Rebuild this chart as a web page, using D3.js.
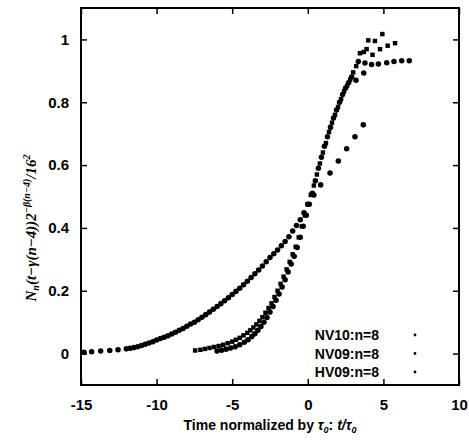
<!DOCTYPE html>
<html>
<head>
<meta charset="utf-8">
<script src="https://cdnjs.cloudflare.com/ajax/libs/d3/7.8.5/d3.min.js"></script>
<style>
  body { margin: 0; background: #fff; }
  text { font-family: "Liberation Sans", Arial, sans-serif; }
</style>
</head>
<body>
<script>
// NV10: the wide curve starting at -15
var nv10X = [-14.8,-14.3,-13.7,-13.1,-12.55,-12.0,-11.75,-11.5,-11.25,-11.0,-10.75,-10.5,-10.25,-10.0,-9.75,-9.5,-9.25,-9.0,-8.75,-8.5,-8.25,-8.0,-7.75,-7.5,-7.25,-7.0,-6.75,-6.5,-6.25,-6.0,-5.75,-5.5,-5.25,-5.0,-4.75,-4.5,-4.25,-4.0,-3.75,-3.5,-3.25,-3.0,-2.75,-2.5,-2.25,-2.0,-1.75,-1.5,-1.25,-1.0,-0.75,-0.5,-0.25,0.0,0.4,0.85,1.47,2.02,2.57,3.12,3.67];
var nv10Y = [0.004,0.006,0.008,0.010,0.012,0.015,0.017,0.019,0.022,0.026,0.030,0.034,0.038,0.043,0.048,0.052,0.057,0.062,0.068,0.074,0.080,0.087,0.094,0.100,0.108,0.116,0.124,0.132,0.141,0.150,0.159,0.168,0.178,0.188,0.198,0.208,0.219,0.230,0.242,0.254,0.266,0.279,0.292,0.306,0.318,0.330,0.343,0.357,0.372,0.390,0.408,0.426,0.448,0.475,0.505,0.537,0.575,0.613,0.652,0.690,0.728];

// NV09: steep curve starting near -7.5
var nv09X = [-7.45,-7.1,-6.8,-6.5,-6.2,-5.9,-5.6,-5.3,-5.0,-4.75,-4.5,-4.25,-4.0,-3.8,-3.6,-3.4,-3.2,-3.0,-2.8,-2.6,-2.4,-2.2,-2.0,-1.8,-1.6,-1.4,-1.2,-1.0,-0.8,-0.6,-0.4,-0.2,0.0,0.2,0.4,0.6,0.8,1.0,1.2,1.4,1.6,1.8,2.0,2.2,2.4,2.6,2.8,3.0,3.2,3.45,3.7,3.89,4.0,4.28,4.44,4.78,4.93,5.28,5.77];
var nv09Y = [0.010,0.012,0.015,0.018,0.021,0.024,0.028,0.033,0.038,0.044,0.050,0.058,0.066,0.074,0.083,0.093,0.104,0.116,0.130,0.145,0.160,0.180,0.200,0.222,0.245,0.268,0.292,0.316,0.340,0.370,0.405,0.440,0.475,0.505,0.535,0.570,0.605,0.640,0.670,0.705,0.735,0.760,0.785,0.810,0.835,0.853,0.872,0.895,0.915,0.956,0.960,0.969,0.997,0.951,0.995,0.969,1.017,0.980,0.988];

// HV09: steep curve starting near -6, flattening at ~0.93
var hv09X = [-6.0,-5.7,-5.4,-5.1,-4.8,-4.5,-4.2,-3.95,-3.7,-3.5,-3.3,-3.1,-2.9,-2.7,-2.5,-2.3,-2.1,-1.9,-1.7,-1.5,-1.3,-1.1,-0.9,-0.7,-0.5,-0.3,-0.1,0.1,0.3,0.5,0.7,0.9,1.1,1.3,1.5,1.7,1.9,2.1,2.3,2.5,2.7,2.9,3.19,3.34,3.7,3.78,4.22,4.67,5.22,5.7,6.21,6.71];
var hv09Y = [0.008,0.011,0.014,0.018,0.022,0.028,0.036,0.044,0.054,0.063,0.074,0.086,0.100,0.115,0.132,0.150,0.170,0.190,0.212,0.235,0.260,0.285,0.310,0.338,0.370,0.405,0.440,0.475,0.510,0.550,0.590,0.625,0.660,0.690,0.720,0.750,0.775,0.800,0.825,0.845,0.862,0.880,0.870,0.930,0.893,0.925,0.920,0.922,0.926,0.930,0.932,0.932];

var xTicks = [-15, -10, -5, 0, 5, 10];
var yTicks = [0, 0.2, 0.4, 0.6, 0.8, 1];
var seriesNames = ['NV10:n=8', 'NV09:n=8', 'HV09:n=8'];

var width = 469, height = 441;
var margin = {left: 81, right: 10, top: 8, bottom: 56};

var svg = d3.select('body').append('svg')
  .attr('width', width)
  .attr('height', height);

var x = d3.scaleLinear().domain([-15, 10]).range([margin.left, width - margin.right]);
var y = d3.scaleLinear().domain([-0.1, 1.1]).range([height - margin.bottom, margin.top]);

var tickLen = 6;

// plain hyphen for negatives, like the original
var fmt = function(d) { return String(d); };

var gx = svg.append('g')
  .attr('transform', 'translate(0,' + y.range()[0] + ')')
  .call(d3.axisBottom(x).tickValues(xTicks).tickSizeInner(-tickLen).tickSizeOuter(0).tickPadding(14).tickFormat(fmt));
var gxt = svg.append('g')
  .attr('transform', 'translate(0,' + y.range()[1] + ')')
  .call(d3.axisTop(x).tickValues(xTicks).tickSizeInner(-tickLen).tickSizeOuter(0).tickFormat(''));
var gy = svg.append('g')
  .attr('transform', 'translate(' + x.range()[0] + ',0)')
  .call(d3.axisLeft(y).tickValues(yTicks).tickSizeInner(-tickLen).tickSizeOuter(0).tickPadding(12).tickFormat(fmt));
var gyr = svg.append('g')
  .attr('transform', 'translate(' + x.range()[1] + ',0)')
  .call(d3.axisRight(y).tickValues(yTicks).tickSizeInner(-tickLen).tickSizeOuter(0).tickFormat(''));

[gx, gxt, gy, gyr].forEach(function(g) {
  g.select('.domain').remove();
  g.selectAll('line').attr('stroke', '#000').attr('stroke-width', 1.5);
  g.selectAll('text')
    .attr('fill', '#000')
    .style('font-size', '15px')
    .style('font-weight', 'bold');
});

svg.append('rect')
  .attr('x', x.range()[0])
  .attr('y', y.range()[1])
  .attr('width', x.range()[1] - x.range()[0])
  .attr('height', y.range()[0] - y.range()[1])
  .attr('fill', 'none')
  .attr('stroke', '#000')
  .attr('stroke-width', 2);

// data points
function plot(xs, ys, shape, size) {
  var sym = d3.symbol().type(shape).size(size);
  svg.append('g').selectAll('path')
    .data(xs.map(function(d, i) { return [d, ys[i]]; }))
    .enter().append('path')
    .attr('d', sym)
    .attr('fill', '#000')
    .attr('transform', function(d) {
      return 'translate(' + x(d[0]) + ',' + y(d[1]) + ')';
    });
}
plot(nv10X, nv10Y, d3.symbolCircle, 24);
plot(nv09X, nv09Y, d3.symbolSquare, 20);
plot(hv09X, hv09Y, d3.symbolCircle, 24);

// legend
var legend = svg.append('g');
seriesNames.forEach(function(name, i) {
  var ly = 335 + i * 18.5;
  legend.append('text')
    .attr('x', 379)
    .attr('y', ly + 5)
    .attr('text-anchor', 'end')
    .style('font-size', '14px')
    .style('font-weight', 'bold')
    .text(name);
  legend.append('circle')
    .attr('cx', 415)
    .attr('cy', ly)
    .attr('r', 1.4)
    .attr('fill', '#000');
});

// x axis title
var xt = svg.append('text')
  .attr('x', (x.range()[0] + x.range()[1]) / 2)
  .attr('y', 430)
  .attr('text-anchor', 'middle')
  .style('font-size', '14px')
  .style('font-weight', 'bold');
xt.append('tspan').text('Time normalized by ');
xt.append('tspan').style('font-style', 'italic').text('τ');
xt.append('tspan').attr('dy', 3).style('font-size', '9px').style('font-style', 'italic').text('0');
xt.append('tspan').attr('dy', -3).text(': ');
xt.append('tspan').style('font-style', 'italic').text('t/τ');
xt.append('tspan').attr('dy', 3).style('font-size', '9px').style('font-style', 'italic').text('0');

// y axis title
var yt = svg.append('text')
  .attr('transform', 'translate(36,228) rotate(-90)')
  .attr('text-anchor', 'middle')
  .style('font-family', '"Liberation Serif", "Times New Roman", serif')
  .style('font-style', 'italic')
  .style('font-weight', 'bold')
  .style('font-size', '15px');
yt.append('tspan').text('N');
yt.append('tspan').attr('dy', 3).style('font-size', '10px').text('n');
yt.append('tspan').attr('dy', -3).text('(t−γ(n−4))2');
yt.append('tspan').attr('dy', -6).style('font-size', '10px').text('−β(n−4)');
yt.append('tspan').attr('dy', 6).text('/16');
yt.append('tspan').attr('dy', -6).style('font-size', '10px').text('2');
</script>
</body>
</html>
